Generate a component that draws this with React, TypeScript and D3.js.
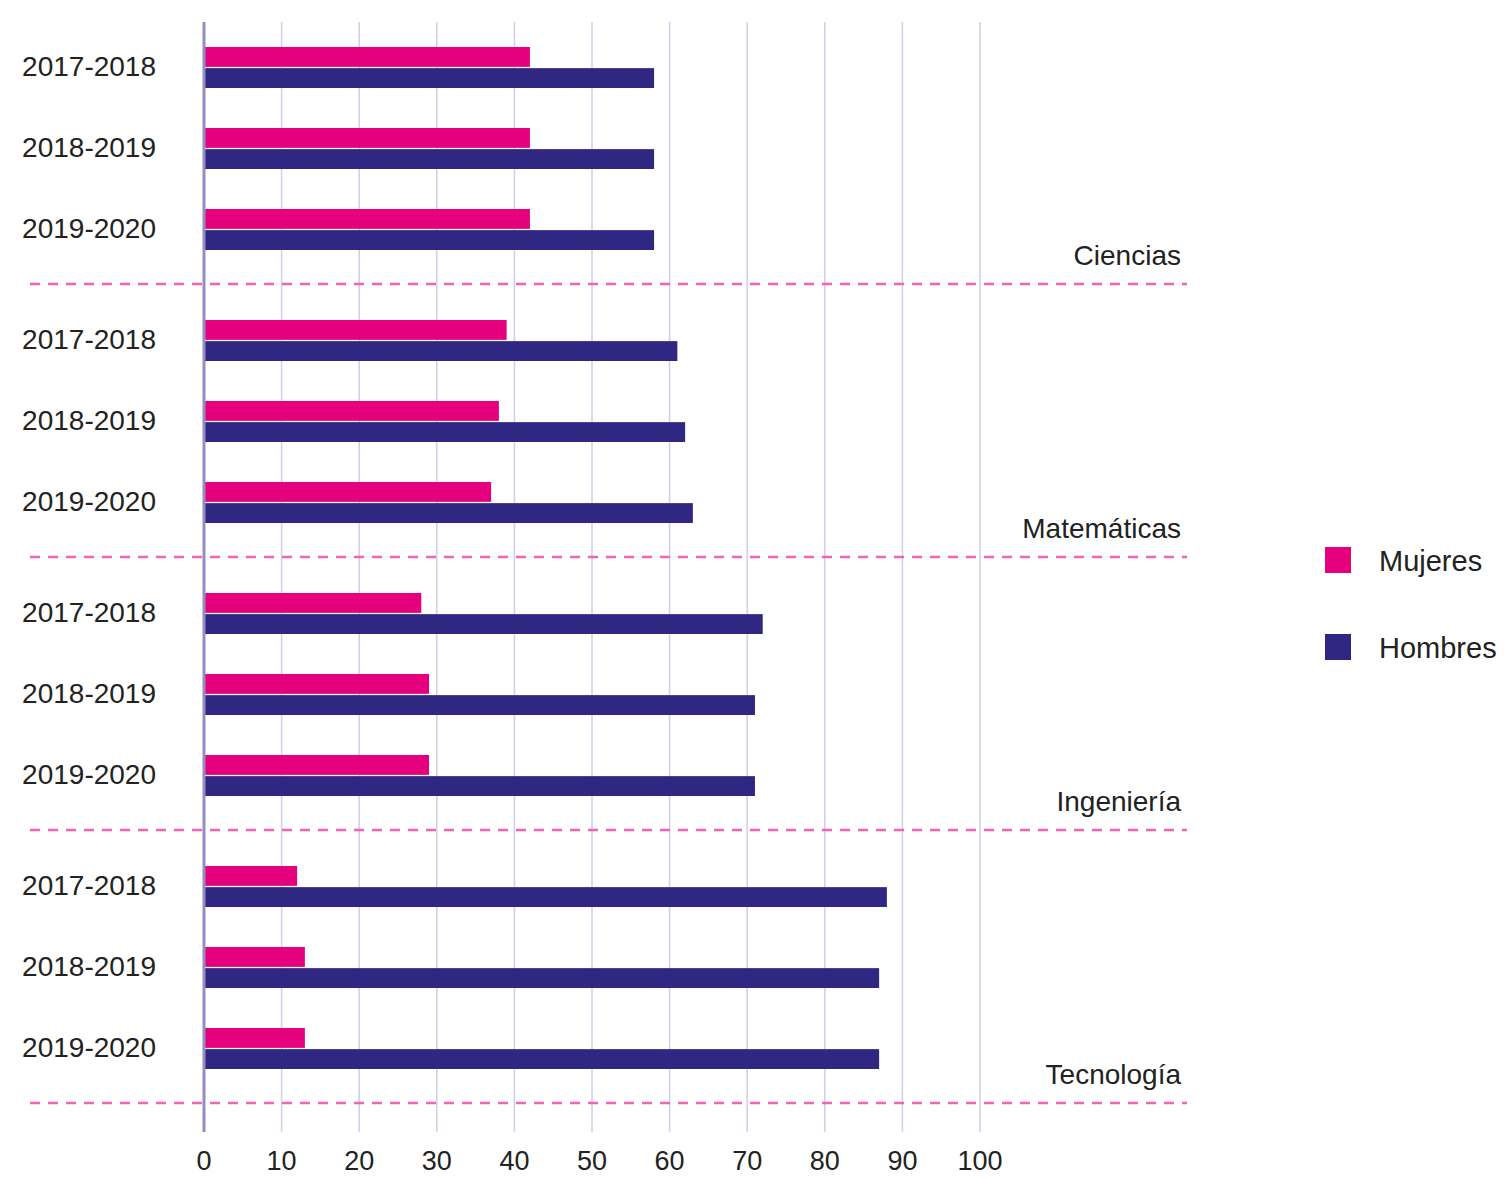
import React, { useEffect, useRef } from 'react'
import * as d3 from 'd3'

// data (percent)
const categories = ['Ciencias', 'Matemáticas', 'Ingeniería', 'Tecnología']
const years = ['2017-2018', '2018-2019', '2019-2020']
const mujeres = [42, 42, 42, 39, 38, 37, 28, 29, 29, 12, 13, 13]
const hombres = [58, 58, 58, 61, 62, 63, 72, 71, 71, 88, 87, 87]
const series = ['Mujeres', 'Hombres']
const xTicks = [0, 10, 20, 30, 40, 50, 60, 70, 80, 90, 100]

const colors = { Mujeres: '#e5007d', Hombres: '#302783' }
const FONT = '"Liberation Sans", Arial, sans-serif'

function App () {
  const ref = useRef(null)

  useEffect(() => {
    const width = 1507
    const height = 1178
    const svg = d3.select(ref.current)
    svg.selectAll('*').remove()
    svg.attr('width', width).attr('height', height)

    const x = d3.scaleLinear().domain([0, 100]).range([204, 980])
    const group = d3.scaleBand().domain(categories).range([11, 1103])
    const row = d3.scalePoint().domain(years).range([57, 219])
    const sub = d3.scaleBand().domain(series).range([-21, 20]).paddingInner(0.06)

    const plotTop = 22
    const plotBottom = 1132

    // gridlines
    svg.append('g')
      .selectAll('line')
      .data(xTicks.slice(1))
      .enter()
      .append('line')
      .attr('x1', d => x(d))
      .attr('x2', d => x(d))
      .attr('y1', plotTop)
      .attr('y2', plotBottom)
      .attr('stroke', '#d3d0ea')
      .attr('stroke-width', 1.6)

    const rows = []
    categories.forEach((c, gi) => {
      years.forEach((yr, ri) => {
        const i = gi * 3 + ri
        rows.push({ cat: c, year: yr, Mujeres: mujeres[i], Hombres: hombres[i] })
      })
    })
    const cy = d => group(d.cat) + row(d.year)

    // bars
    const rowG = svg.append('g')
      .selectAll('g')
      .data(rows)
      .enter()
      .append('g')
      .attr('transform', d => 'translate(0,' + cy(d) + ')')

    rowG.selectAll('rect')
      .data(d => series.map(s => ({ s, v: d[s] })))
      .enter()
      .append('rect')
      .attr('x', x(0))
      .attr('y', d => sub(d.s))
      .attr('width', d => x(d.v) - x(0))
      .attr('height', sub.bandwidth())
      .attr('fill', d => colors[d.s])

    // year labels
    rowG.append('text')
      .attr('x', 156)
      .attr('y', -2)
      .attr('dy', '0.36em')
      .attr('text-anchor', 'end')
      .attr('font-family', FONT)
      .attr('font-size', 28)
      .attr('fill', '#222')
      .text(d => d.year)

    // group separators + names
    const sep = svg.append('g')
      .selectAll('g')
      .data(categories)
      .enter()
      .append('g')
      .attr('transform', d => 'translate(0,' + (group(d) + group.bandwidth()) + ')')

    sep.append('line')
      .attr('x1', 30)
      .attr('x2', 1187)
      .attr('stroke', '#f064b2')
      .attr('stroke-width', 2.5)
      .attr('stroke-dasharray', '10,8')

    sep.append('text')
      .attr('x', 1181)
      .attr('y', -19)
      .attr('text-anchor', 'end')
      .attr('font-family', FONT)
      .attr('font-size', 28)
      .attr('fill', '#222')
      .text(d => d)

    // zero axis
    svg.append('line')
      .attr('x1', x(0))
      .attr('x2', x(0))
      .attr('y1', plotTop)
      .attr('y2', plotBottom)
      .attr('stroke', '#938dc4')
      .attr('stroke-width', 3)

    // x tick labels
    svg.append('g')
      .selectAll('text')
      .data(xTicks)
      .enter()
      .append('text')
      .attr('x', d => x(d))
      .attr('y', 1170)
      .attr('text-anchor', 'middle')
      .attr('font-family', FONT)
      .attr('font-size', 27)
      .attr('fill', '#222')
      .text(d => d)

    // legend
    const legend = svg.append('g')
      .selectAll('g')
      .data(series)
      .enter()
      .append('g')
      .attr('transform', (d, i) => 'translate(1325,' + (547 + i * 87) + ')')

    legend.append('rect')
      .attr('width', 26)
      .attr('height', 26)
      .attr('fill', d => colors[d])

    legend.append('text')
      .attr('x', 54)
      .attr('y', 24)
      .attr('font-family', FONT)
      .attr('font-size', 29)
      .attr('fill', '#222')
      .text(d => d)
  }, [])

  return <svg ref={ref} style={{ position: 'absolute', left: 0, top: 0, background: '#fff' }} />
}

export default App
